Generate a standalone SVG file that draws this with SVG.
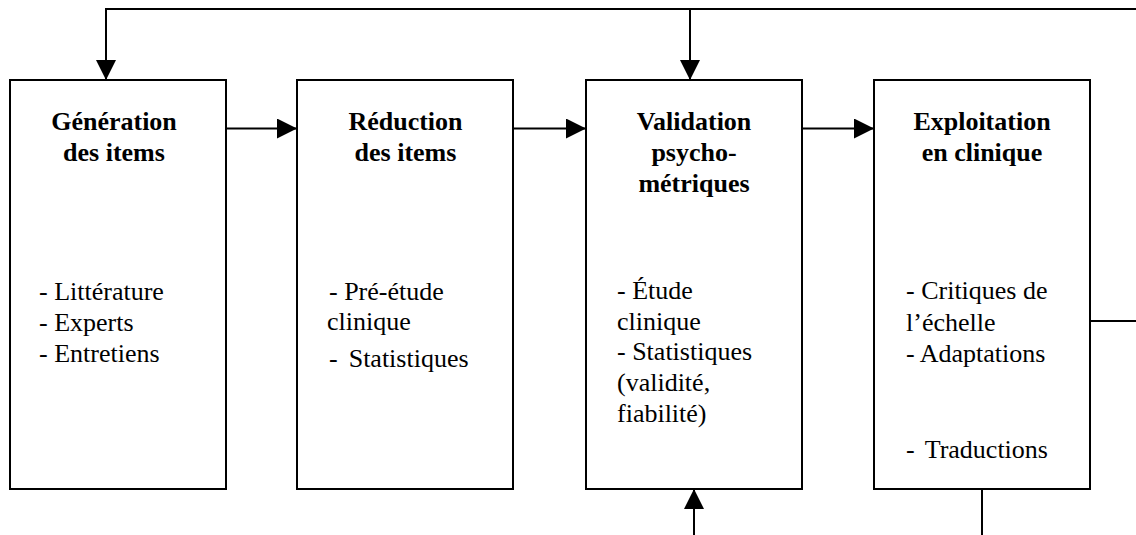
<svg xmlns="http://www.w3.org/2000/svg" width="1136" height="535" viewBox="0 0 1136 535">
<style>
.box{fill:#fff;stroke:#000;stroke-width:2}
.c{fill:none;stroke:#000;stroke-width:2}
</style>
<defs>
<marker id="ah" markerUnits="userSpaceOnUse" markerWidth="20" markerHeight="20" refX="20" refY="10" orient="auto" viewBox="0 0 20 20">
<path d="M0,0 L20,10 L0,20 Z" fill="#000"/>
</marker>
</defs>
<rect width="1136" height="535" fill="#fff"/>
<g id="connectors">
<path class="c" d="M1136,9 H106 V80" marker-end="url(#ah)"/>
<path class="c" d="M690,9 V80" marker-end="url(#ah)"/>
<path class="c" d="M226,128.5 H297" marker-end="url(#ah)"/>
<path class="c" d="M513,128.5 H586" marker-end="url(#ah)"/>
<path class="c" d="M802,128.5 H874" marker-end="url(#ah)"/>
<path class="c" d="M694,535 V489" marker-end="url(#ah)"/>
<path class="c" d="M1090,321 H1136"/>
<path class="c" d="M982,489 V535"/>
</g>
<g id="generation" font-family="Liberation Serif" font-size="26" fill="#000">
<rect class="box" x="10" y="80" width="216" height="409"/>
<text font-weight="bold" text-anchor="middle" x="114" y="130">Génération</text>
<text font-weight="bold" text-anchor="middle" x="114" y="161">des items</text>
<text x="39" y="300">- Littérature</text>
<text x="39" y="331">- Experts</text>
<text x="39" y="362">- Entretiens</text>
</g>
<g id="reduction" font-family="Liberation Serif" font-size="26" fill="#000">
<rect class="box" x="297" y="80" width="216" height="409"/>
<text font-weight="bold" text-anchor="middle" x="405.5" y="130">Réduction</text>
<text font-weight="bold" text-anchor="middle" x="405.5" y="161">des items</text>
<text x="329" y="300">- Pré-étude</text>
<text x="327" y="330">clinique</text>
<text x="329" y="367">-<tspan dx="11">Statistiques</tspan></text>
</g>
<g id="validation" font-family="Liberation Serif" font-size="26" fill="#000">
<rect class="box" x="586" y="80" width="216" height="409"/>
<text font-weight="bold" text-anchor="middle" x="694" y="130">Validation</text>
<text font-weight="bold" text-anchor="middle" x="694" y="161">psycho-</text>
<text font-weight="bold" text-anchor="middle" x="694" y="192">métriques</text>
<text x="617" y="299">- Étude</text>
<text x="617" y="330">clinique</text>
<text x="617" y="360">- Statistiques</text>
<text x="617" y="391">(validité,</text>
<text x="617" y="422">fiabilité)</text>
</g>
<g id="exploitation" font-family="Liberation Serif" font-size="26" fill="#000">
<rect class="box" x="874" y="80" width="216" height="409"/>
<text font-weight="bold" text-anchor="middle" x="982" y="130">Exploitation</text>
<text font-weight="bold" text-anchor="middle" x="982" y="161">en clinique</text>
<text x="906" y="299">- Critiques de</text>
<text x="906" y="331">l’échelle</text>
<text x="906" y="362">- Adaptations</text>
<text x="906" y="458">-<tspan dx="10">Traductions</tspan></text>
</g>
</svg>
